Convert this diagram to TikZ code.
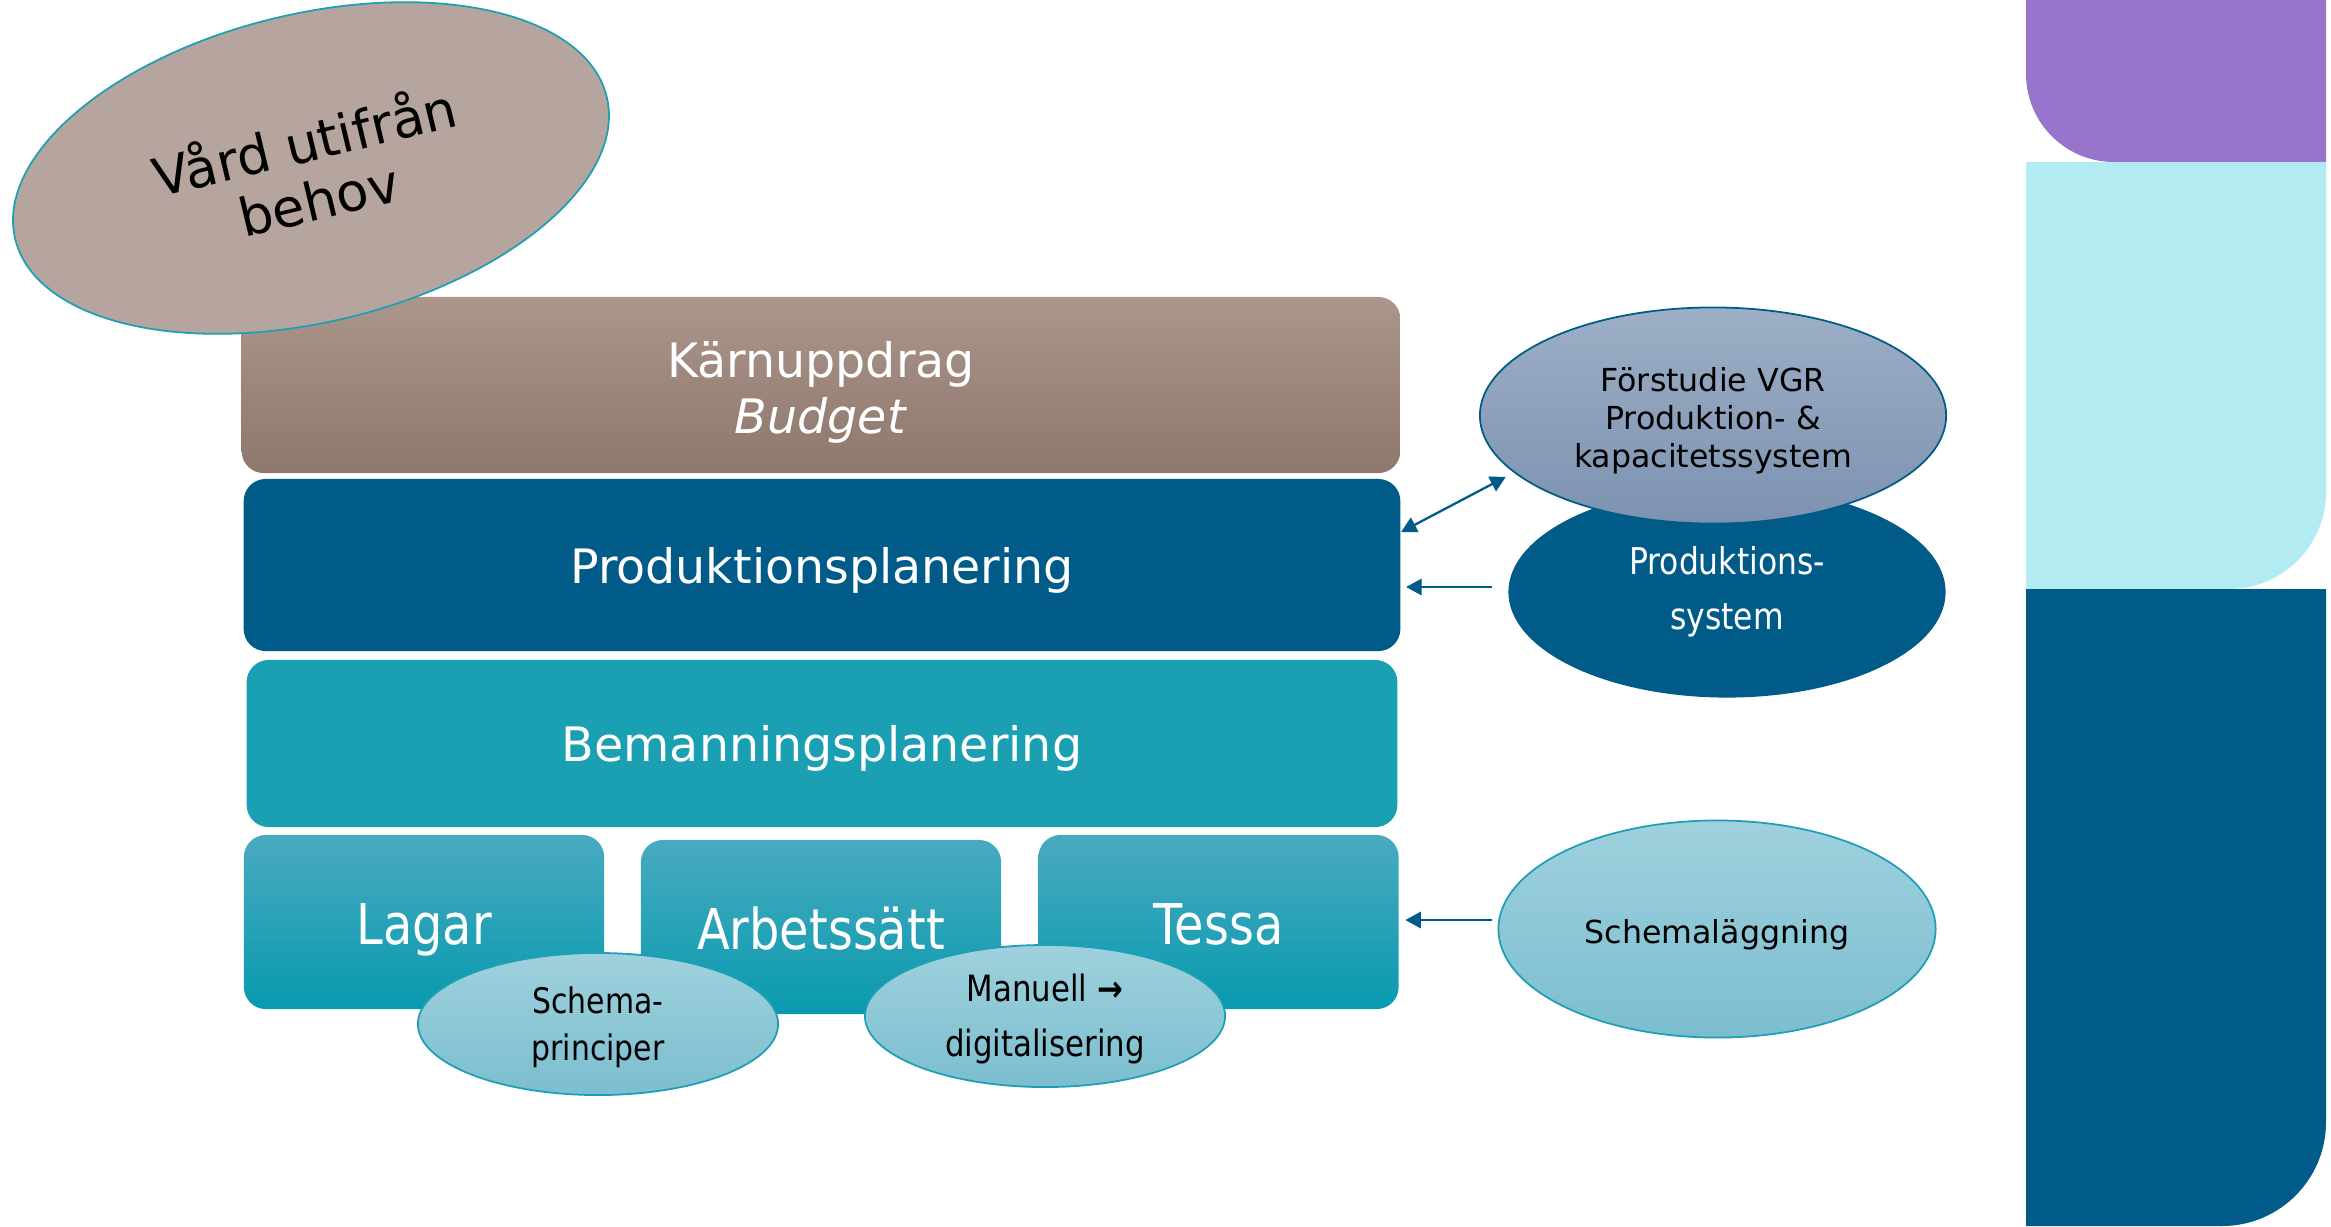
\documentclass[tikz,border=0pt]{standalone}
\usepackage{fontspec}
\setmainfont{DejaVu Sans}
\newfontfamily\narrowfont[FakeStretch=0.85]{DejaVu Sans}
\usetikzlibrary{shapes.geometric,arrows.meta}
\definecolor{vardfill}{HTML}{B5A59E}
\definecolor{karntop}{HTML}{AB968C}
\definecolor{karnbot}{HTML}{8E776C}
\definecolor{ppblue}{HTML}{005B88}
\definecolor{bpteal}{HTML}{1B9FB3}
\definecolor{sbtop}{HTML}{49AABF}
\definecolor{sbbot}{HTML}{089AAF}
\definecolor{fstop}{HTML}{9DAFC6}
\definecolor{fsbot}{HTML}{7C92B0}
\definecolor{eltop}{HTML}{9FD1DD}
\definecolor{elbot}{HTML}{7BBECF}
\definecolor{tealline}{HTML}{1E9FB5}
\definecolor{stripviolet}{HTML}{9775CC}
\definecolor{stripcyan}{HTML}{B2EBF2}
\tikzset{
  layerbox/.style={rectangle, rounded corners=0.22cm, inner sep=0pt, text=white, align=center},
  smallbox/.style={layerbox, top color=sbtop, bottom color=sbbot, minimum width=3.6cm, minimum height=1.74cm, text height=13pt, text depth=0pt, font=\narrowfont\fontsize{16}{19}\selectfont},
  lightell/.style={ellipse, inner sep=0pt, draw=tealline, line width=0.5pt, top color=eltop, bottom color=elbot, text=black, align=center},
  arr/.style={draw=ppblue, line width=0.65pt, -{Triangle[length=4.4pt,width=4.6pt]}},
}
\begin{document}
\begin{tikzpicture}[x=0.01cm,y=-0.01cm]
\useasboundingbox (0,0) rectangle (2331,1226);
% right strip
\fill[stripviolet] (2026,0) -- (2326,0) -- (2326,162) -- (2114,162) arc[start angle=90,end angle=180,radius=88] -- cycle;
\fill[stripcyan] (2026,162) -- (2326,162) -- (2326,492) arc[start angle=0,end angle=90,radius=97] -- (2026,589) -- cycle;
\fill[ppblue] (2026,589) -- (2326,589) -- (2326,1122) arc[start angle=0,end angle=90,radius=104] -- (2026,1226) -- cycle;
% layers
\node[layerbox, top color=karntop, bottom color=karnbot, minimum width=11.58cm, minimum height=1.76cm, font=\fontsize{13.5}{15.9}\selectfont] (karn) at (821,385) {\rule{0pt}{14.5pt}K\"arnuppdrag\\\textit{Budget}};
\node[layerbox, fill=ppblue, minimum width=11.56cm, minimum height=1.72cm, text height=10.4pt, text depth=0pt, font=\fontsize{13.5}{16}\selectfont] (pp) at (822,565) {Produktionsplanering};
\node[layerbox, fill=bpteal, minimum width=11.5cm, minimum height=1.67cm, text height=10.4pt, text depth=0pt, font=\fontsize{13.5}{16}\selectfont] (bp) at (822,743.5) {Bemanningsplanering};
\node[smallbox] (lagar) at (424,922) {Lagar};
\node[smallbox] (arb) at (821,927) {Arbetss\"att};
\node[smallbox] (tessa) at (1218.5,922) {Tessa};
% ellipses on the right
\node[ellipse, inner sep=0pt, fill=ppblue, text=white, align=center, minimum width=4.37cm, minimum height=2.11cm, font=\narrowfont\fontsize{10.5}{15.6}\selectfont] (ps) at (1727,592) {Produktions-\\system};
\node[ellipse, inner sep=0pt, draw=ppblue, line width=0.5pt, top color=fstop, bottom color=fsbot, text=black, align=center, minimum width=4.66cm, minimum height=2.16cm, font=\fontsize{9}{10.8}\selectfont] (fs) at (1713,415.5) {\rule{0pt}{9.6pt}F\"orstudie VGR\\Produktion- \&\\kapacitetssystem};
\node[lightell, minimum width=4.37cm, minimum height=2.17cm, text height=8.2pt, text depth=0pt, font=\fontsize{9}{11}\selectfont] (sl) at (1717,929) {Schemal\"aggning};
% small ellipses
\node[lightell, minimum width=3.6cm, minimum height=1.42cm, font=\narrowfont\fontsize{10}{13.6}\selectfont] (sp) at (598,1024) {\rule{0pt}{9.5pt}Schema-\\principer};
\node[lightell, minimum width=3.6cm, minimum height=1.42cm, font=\narrowfont\fontsize{10.3}{15.6}\selectfont] (md) at (1045,1016) {\rule{0pt}{9.6pt}Manuell \textbf{→}\\digitalisering};
% top-left ellipse
\node[ellipse, inner sep=0pt, draw=tealline, line width=0.5pt, fill=vardfill, align=center, rotate=13.5, minimum width=6.08cm, minimum height=3.08cm, font=\fontsize{15}{16.8}\selectfont] (vard) at (311,168) {V\aa rd utifr\aa n\\behov};
% connectors
\draw[arr, {Triangle[length=4.4pt,width=4.6pt]}-{Triangle[length=4.4pt,width=4.6pt]}, shorten >=0.09cm] ([yshift=0.33cm]pp.east) -- (fs.196);
\draw[arr, shorten <=0.155cm, shorten >=0.05cm] ([yshift=0.05cm]ps.west) -- ([yshift=0.05cm]pp.east |- ps.west);
\draw[arr, shorten <=0.055cm, shorten >=0.06cm] ([yshift=0.09cm]sl.west) -- ([yshift=0.09cm]tessa.east |- sl.west);
\end{tikzpicture}
\end{document}
